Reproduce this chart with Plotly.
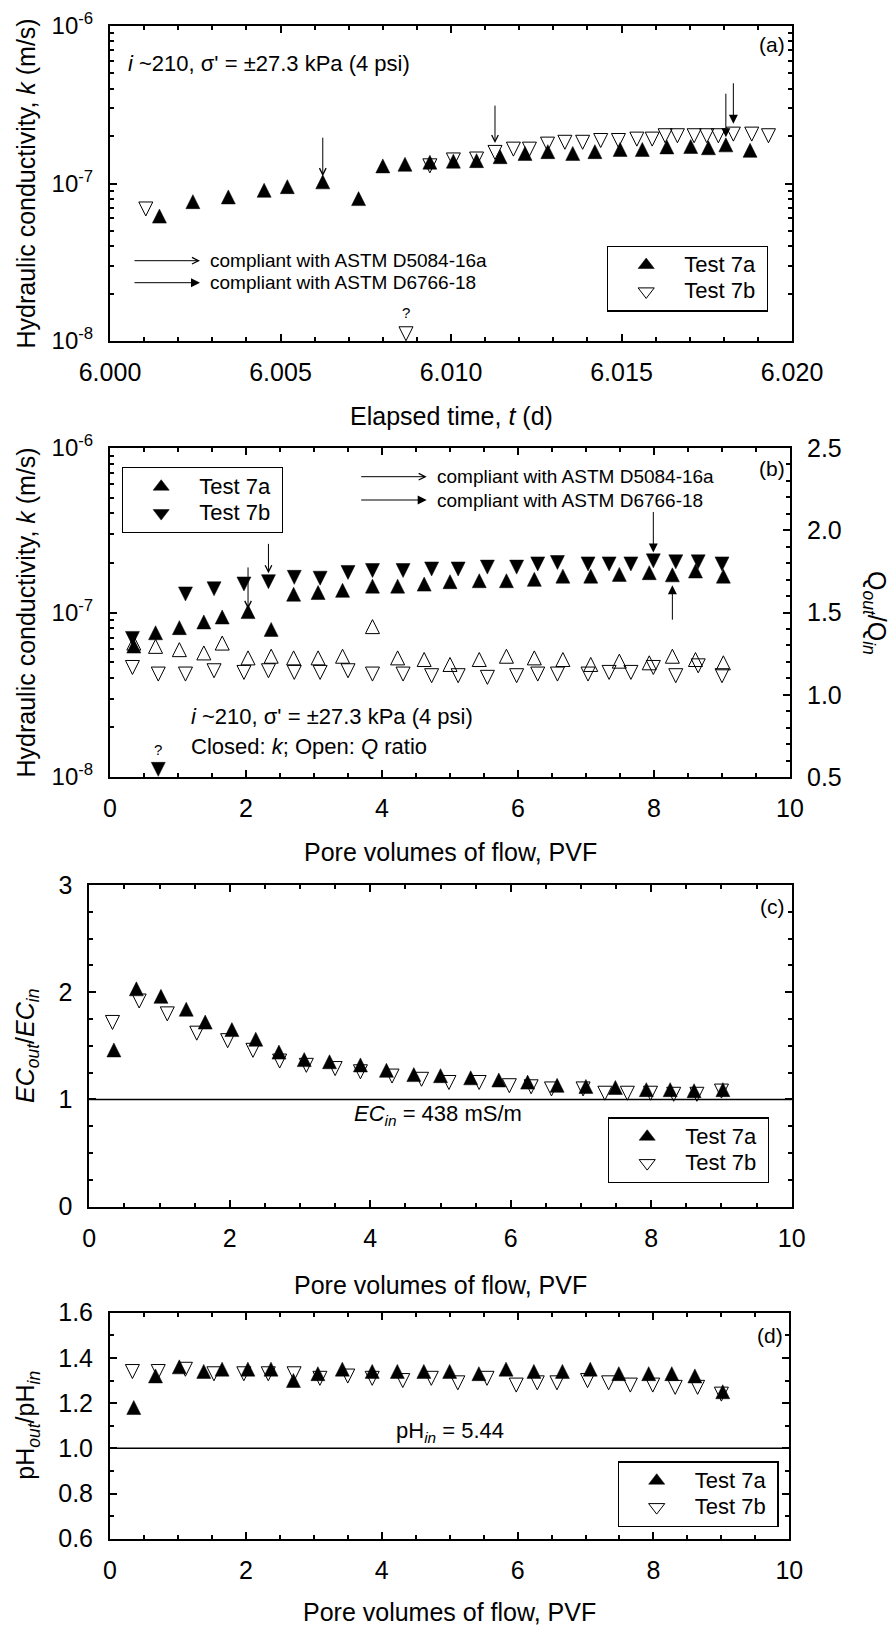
import math
import plotly.graph_objects as go

W, H = 893, 1627
def px(x): return x / W
def py(y): return 1 - y / H

FONT = "Liberation Sans, Arial, sans-serif"

# ---------------- data ----------------
# (a) k vs elapsed time
t_7a = [6.00145, 6.00243, 6.00347, 6.00452, 6.00520, 6.00624, 6.00729, 6.00800, 6.00865, 6.00938,
        6.01007, 6.01075, 6.01144, 6.01217, 6.01284, 6.01357, 6.01422, 6.01496, 6.01561, 6.01633,
        6.01703, 6.01755, 6.01806, 6.01877]
k_7a_t = [0.600, 0.741, 0.794, 0.875, 0.923, 0.990, 0.775, 1.25, 1.28, 1.32,
          1.34, 1.35, 1.43, 1.50, 1.54, 1.50, 1.54, 1.59, 1.59, 1.65,
          1.66, 1.63, 1.70, 1.57]  # x 1e-7 m/s
t_7b = [6.00105, 6.00868, 6.00938, 6.01007, 6.01075, 6.01129, 6.01183, 6.01230, 6.01283, 6.01334,
        6.01386, 6.01439, 6.01491, 6.01545, 6.01590, 6.01628, 6.01664, 6.01713, 6.01750, 6.01784,
        6.01828, 6.01882, 6.01931]
k_7b_t = [0.713, 0.115, 1.34, 1.46, 1.48, 1.63, 1.71, 1.71, 1.84, 1.89,
          1.89, 1.94, 1.94, 1.98, 1.98, 2.08, 2.08, 2.08, 2.08, 2.08,
          2.13, 2.13, 2.08]  # x 1e-7 m/s

# pore volumes of flow
pvf_7a = [0.35, 0.67, 1.02, 1.38, 1.65, 2.03, 2.37, 2.70, 3.06, 3.42, 3.86, 4.23,
          4.62, 5.00, 5.43, 5.83, 6.24, 6.66, 7.07, 7.49, 7.93, 8.27, 8.61, 9.02]
pvf_7b = [0.33, 0.71, 1.11, 1.53, 1.97, 2.33, 2.71, 3.09, 3.50, 3.86, 4.31, 4.73,
          5.12, 5.55, 5.98, 6.29, 6.58, 7.03, 7.34, 7.66, 7.99, 8.32, 8.65, 9.00]

# (b) k and Q ratio vs PVF
k_7a_p = [0.605, 0.729, 0.783, 0.848, 0.909, 0.980, 0.764, 1.25, 1.28, 1.32, 1.40, 1.40,
          1.44, 1.49, 1.51, 1.51, 1.54, 1.61, 1.61, 1.65, 1.69, 1.64, 1.73, 1.61]  # x 1e-7
k_7b_p = [0.719, 0.115, 1.34, 1.44, 1.54, 1.59, 1.69, 1.67, 1.81, 1.86, 1.86, 1.90,
          1.90, 1.95, 1.95, 2.04, 2.08, 2.04, 2.04, 2.04, 2.13, 2.10, 2.10, 2.04]  # x 1e-7
q_7a = [1.30, 1.28, 1.26, 1.24, 1.30, 1.21, 1.22, 1.21, 1.21, 1.22, 1.40, 1.21,
        1.20, 1.17, 1.20, 1.22, 1.21, 1.20, 1.17, 1.19, 1.18, 1.22, 1.20, 1.18]
q_7b = [1.18, 1.14, 1.14, 1.16, 1.15, 1.16, 1.15, 1.15, 1.16, 1.14, 1.14, 1.13,
        1.13, 1.12, 1.13, 1.14, 1.14, 1.14, 1.15, 1.15, 1.18, 1.13, 1.19, 1.13]

# (c) EC ratio
ec_7a = [1.44, 2.01, 1.94, 1.82, 1.70, 1.63, 1.54, 1.42, 1.35, 1.33, 1.30, 1.25,
         1.21, 1.20, 1.18, 1.16, 1.14, 1.11, 1.10, 1.09, 1.07, 1.07, 1.06, 1.07]
ec_7b = [1.74, 1.94, 1.82, 1.64, 1.57, 1.48, 1.38, 1.34, 1.31, 1.28, 1.24, 1.21,
         1.18, 1.18, 1.15, 1.14, 1.12, 1.12, 1.08, 1.08, 1.08, 1.07, 1.07, 1.10]

# (d) pH ratio
ph_7a = [1.17, 1.31, 1.35, 1.33, 1.34, 1.34, 1.34, 1.29, 1.32, 1.34, 1.33, 1.33,
         1.33, 1.33, 1.32, 1.34, 1.33, 1.33, 1.34, 1.32, 1.32, 1.32, 1.31, 1.24]
ph_7b = [1.35, 1.35, 1.36, 1.34, 1.34, 1.34, 1.34, 1.32, 1.33, 1.32, 1.31, 1.32,
         1.30, 1.32, 1.29, 1.30, 1.30, 1.31, 1.30, 1.29, 1.29, 1.28, 1.28, 1.25]

names = ["Test 7a", "Test 7b"]
log_ticks = [1e-8, 1e-7, 1e-6]
log_ticktext = ["10<sup>-8</sup>", "10<sup>-7</sup>", "10<sup>-6</sup>"]

K = 1e-7
def ks(lst): return [v * K for v in lst]

# ---------------- marker styles ----------------
SZ = 14
SO = SZ * 2 / 3   # shifts the arrow-shaped triangle so its centroid sits on the point

def tri(up, filled):
    return dict(symbol="arrow-down" if filled else "arrow-down-open",
                angle=180 if up else 0, standoff=SO, size=SZ, color="black",
                line=dict(color="black", width=0.5 if filled else 1))

def legtri(up, filled):
    s = "triangle-up" if up else "triangle-down"
    return dict(symbol=s if filled else s + "-open", size=14, color="black",
                line=dict(color="black", width=0.5 if filled else 1))

fig = go.Figure()

def add(x, y, xa, ya, name, marker):
    fig.add_trace(go.Scatter(x=x, y=y, mode="markers", name=name, marker=marker,
                             xaxis=xa, yaxis=ya, showlegend=False, hoverinfo="x+y"))

def legend_key(xa, ya, name, marker, legend):
    fig.add_trace(go.Scatter(x=[None], y=[None], mode="markers", marker=marker,
                             name="<span style='font-size:22px'>" + name + "\u00a0</span>",
                             xaxis=xa, yaxis=ya, legend=legend, showlegend=True,
                             hoverinfo="skip"))

# (a)
add(t_7a, ks(k_7a_t), "x", "y", names[0], tri(True, True))
add(t_7b, ks(k_7b_t), "x", "y", names[1], tri(False, False))
legend_key("x", "y", names[0], legtri(True, True), "legend")
legend_key("x", "y", names[1], legtri(False, False), "legend")
# (b)
add(pvf_7a, ks(k_7a_p), "x2", "y2", names[0], tri(True, True))
add(pvf_7b, ks(k_7b_p), "x2", "y2", names[1], tri(False, True))
add(pvf_7a, q_7a, "x2", "y3", names[0] + " Q", tri(True, False))
add(pvf_7b, q_7b, "x2", "y3", names[1] + " Q", tri(False, False))
legend_key("x2", "y2", names[0], legtri(True, True), "legend2")
legend_key("x2", "y2", names[1], legtri(False, True), "legend2")
# (c)
add(pvf_7a, ec_7a, "x3", "y4", names[0], tri(True, True))
add(pvf_7b, ec_7b, "x3", "y4", names[1], tri(False, False))
legend_key("x3", "y4", names[0], legtri(True, True), "legend3")
legend_key("x3", "y4", names[1], legtri(False, False), "legend3")
# (d)
add(pvf_7a, ph_7a, "x4", "y5", names[0], tri(True, True))
add(pvf_7b, ph_7b, "x4", "y5", names[1], tri(False, False))
legend_key("x4", "y5", names[0], legtri(True, True), "legend4")
legend_key("x4", "y5", names[1], legtri(False, False), "legend4")

# ---------------- axes ----------------
def axis(minor=None, **kw):
    d = dict(showline=True, linecolor="black", linewidth=2, ticks="inside", ticklen=7,
             tickwidth=1.5, tickcolor="black", showgrid=False, zeroline=False,
             tickfont=dict(family=FONT, size=25, color="black"), automargin=False,
             mirror="ticks")
    m = dict(ticks="inside", ticklen=4, tickwidth=1.5, tickcolor="black", showgrid=False)
    if minor:
        m.update(minor)
    d["minor"] = m
    d.update(kw)
    return d

minor_log = [m * 10 ** e for e in (-8, -7) for m in range(2, 10)]
LOGFONT = dict(family=FONT, size=24, color="black")

fig.update_layout(
    xaxis=axis(domain=[px(110), px(792)], range=[6.0, 6.02], dtick=0.005, tick0=6.0,
               tickformat=".3f", minor=dict(dtick=0.001), anchor="y", ticklabelstandoff=8),
    yaxis=axis(domain=[py(341), py(26)], type="log", range=[-8, -6], tickmode="array",
               tickvals=log_ticks, ticktext=log_ticktext, tickfont=LOGFONT,
               minor=dict(tickmode="array", tickvals=minor_log), anchor="x", ticklabelstandoff=10),
    xaxis2=axis(domain=[px(110), px(790)], range=[0, 10], dtick=2, minor=dict(dtick=0.5),
                anchor="y2", ticklabelstandoff=8),
    yaxis2=axis(domain=[py(777), py(448)], type="log", range=[-8, -6], tickmode="array",
                tickvals=log_ticks, ticktext=log_ticktext, tickfont=LOGFONT,
                minor=dict(tickmode="array", tickvals=minor_log), anchor="x2", mirror=False,
                ticklabelstandoff=10),
    yaxis3=axis(range=[0.5, 2.5], dtick=0.5, tickformat=".1f", minor=dict(dtick=0.1),
                overlaying="y2", side="right", anchor="x2", mirror=False, ticklabelstandoff=10),
    xaxis3=axis(domain=[px(89.3), px(791.7)], range=[0, 10], dtick=2, minor=dict(dtick=0.5),
                anchor="y4", ticklabelstandoff=8),
    yaxis4=axis(domain=[py(1206.7), py(885)], range=[0, 3], dtick=1, minor=dict(dtick=0.25),
                anchor="x3", ticklabelstandoff=10),
    xaxis4=axis(domain=[px(110), px(789.3)], range=[0, 10], dtick=2, minor=dict(dtick=0.5),
                anchor="y5", ticklabelstandoff=8),
    yaxis5=axis(domain=[py(1538.7), py(1312.7)], range=[0.6, 1.6], dtick=0.2, tick0=0.6,
                tickformat=".1f", minor=dict(dtick=0.1), anchor="x4", ticklabelstandoff=10),
)

def leg(x, y):
    return dict(x=px(x), y=py(y), xanchor="left", yanchor="top", bordercolor="black",
                borderwidth=1.2, bgcolor="white", itemwidth=66, tracegroupgap=0,
                font=dict(family=FONT, size=18, color="black"))

fig.update_layout(
    width=W, height=H, margin=dict(l=0, r=0, t=0, b=0),
    paper_bgcolor="white", plot_bgcolor="white",
    font=dict(family=FONT, color="black"),
    showlegend=True,
    legend=leg(607, 245.6),
    legend2=leg(122, 467.3),
    legend3=leg(608, 1117.3),
    legend4=leg(617.5, 1461.3),
)

# ---------------- annotations ----------------
ann = []
def txt(x, y, text, size=22, xanchor="left", angle=0):
    ann.append(dict(xref="paper", yref="paper", x=px(x), y=py(y), text=text, showarrow=False,
                    xanchor=xanchor, yanchor="middle", textangle=angle,
                    font=dict(family=FONT, size=size, color="black")))

def darrow(xr, yr, x, y, ay, standoff, filled):
    ann.append(dict(xref=xr, yref=yr, x=x, y=y, ax=0, ay=ay, text="", showarrow=True,
                    arrowhead=2 if filled else 5, arrowsize=1.8 if filled else 1.3,
                    arrowwidth=1, arrowcolor="black", standoff=standoff))

def parrow(x_tip, y, length, filled):
    ann.append(dict(xref="paper", yref="paper", x=px(x_tip), y=py(y), ax=-length, ay=0,
                    text="", showarrow=True, arrowhead=2 if filled else 5,
                    arrowsize=1.8 if filled else 1.3, arrowwidth=1, arrowcolor="black"))

HK = "Hydraulic conductivity, <i>k</i> (m/s)"
PVF = "Pore volumes of flow, PVF"

# (a)
txt(451, 415.7, "Elapsed time, <i>t</i> (d)", 25, "center")
txt(25, 183.5, HK, 25, "center", -90)
txt(126, 63.3, "<i>i</i> ~210, σ' = ±27.3 kPa (4 psi)", 22)
txt(787, 45, "(a)", 21, "right")
parrow(200, 260.7, 67, False)
parrow(200, 282.7, 67, True)
txt(208, 260.7, "compliant with ASTM D5084-16a", 19)
txt(208, 282.7, "compliant with ASTM D6766-18", 19)
ann.append(dict(xref="x", yref="y", x=t_7b[1], y=math.log10(k_7b_t[1] * K), text="?",
                showarrow=False, yshift=19, font=dict(family=FONT, size=15, color="black")))
darrow("x", "y", t_7a[5], math.log10(k_7a_t[5] * K), -48, 8, False)
darrow("x", "y", t_7b[5], math.log10(k_7b_t[5] * K), -46, 7, False)
darrow("x", "y", t_7a[22], math.log10(k_7a_t[22] * K), -55, 10, True)
darrow("x", "y", t_7b[20], math.log10(k_7b_t[20] * K), -50, 8, True)

# (b)
txt(450, 851.7, PVF, 25, "center")
txt(25, 612.5, HK, 25, "center", -90)
txt(875, 613, "Q<sub><i>out</i></sub>/Q<sub><i>in</i></sub>", 25, "center", 90)
txt(787, 468.3, "(b)", 21, "right")
parrow(426.7, 476.7, 67, False)
parrow(426.7, 500, 67, True)
txt(435, 476.7, "compliant with ASTM D5084-16a", 19)
txt(435, 500, "compliant with ASTM D6766-18", 19)
txt(189, 716.7, "<i>i</i> ~210, σ' = ±27.3 kPa (4 psi)", 22)
txt(189, 746.7, "Closed: <i>k</i>; Open: <i>Q</i> ratio", 22)
ann.append(dict(xref="x2", yref="y2", x=pvf_7b[1], y=math.log10(k_7b_p[1] * K), text="?",
                showarrow=False, yshift=18, font=dict(family=FONT, size=15, color="black")))
darrow("x2", "y2", pvf_7a[5], math.log10(k_7a_p[5] * K), -48, 5, False)
darrow("x2", "y2", pvf_7b[5], math.log10(k_7b_p[5] * K), -37, 6, False)
darrow("x2", "y2", pvf_7b[20], math.log10(k_7b_p[20] * K), -48, 6, True)
darrow("x2", "y2", pvf_7a[21], math.log10(k_7a_p[21] * K), 44, 8, True)

# (c)
txt(440.5, 1285, PVF, 25, "center")
txt(27, 1046, "<i>EC</i><sub><i>out</i></sub>/<i>EC</i><sub><i>in</i></sub>", 25, "center", -90)
txt(787, 906.7, "(c)", 21, "right")
txt(352, 1115, "<i>EC</i><sub><i>in</i></sub> = 438 mS/m", 22)

# (d)
txt(449.7, 1611.7, PVF, 25, "center")
txt(27, 1425.7, "pH<sub><i>out</i></sub>/pH<sub><i>in</i></sub>", 25, "center", -90)
txt(785, 1335, "(d)", 21, "right")
txt(394, 1431.7, "pH<sub><i>in</i></sub> = 5.44", 22)

fig.update_layout(annotations=ann)

fig.update_layout(shapes=[
    dict(type="line", xref="x3 domain", yref="y4", x0=0, x1=1, y0=1, y1=1,
         line=dict(color="black", width=1.5)),
    dict(type="line", xref="x4 domain", yref="y5", x0=0, x1=1, y0=1, y1=1,
         line=dict(color="black", width=1.5)),
])

fig.write_html("out.html")
